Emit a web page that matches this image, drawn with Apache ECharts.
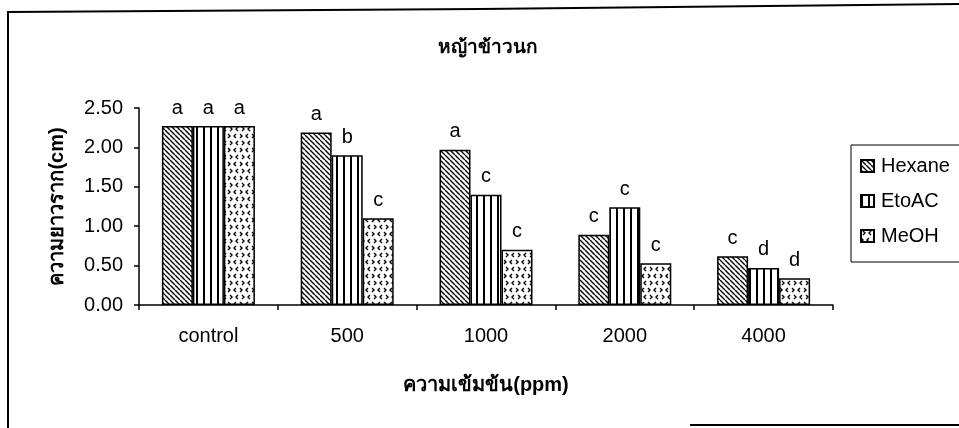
<!DOCTYPE html>
<html><head><meta charset="utf-8">
<script src="https://cdn.jsdelivr.net/npm/echarts@6/dist/echarts.min.js"></script>
<style>html,body{margin:0;padding:0;background:#fff}#c{width:959px;height:428px}</style>
</head><body><div id="c"></div>
<script>
const categories = ['control', '500', '1000', '2000', '4000'];
const seriesNames = ['Hexane', 'EtoAC', 'MeOH'];
const hexane = [2.27, 2.19, 1.97, 0.89, 0.62];
const etoac  = [2.27, 1.90, 1.40, 1.24, 0.47];
const meoh   = [2.27, 1.10, 0.70, 0.53, 0.34];
const hexaneLetters = ['a', 'a', 'a', 'c', 'c'];
const etoacLetters  = ['a', 'b', 'c', 'c', 'd'];
const meohLetters   = ['a', 'c', 'c', 'c', 'd'];
const yTicks = ['0.00', '0.50', '1.00', '1.50', '2.00', '2.50'];

function mk(w, h, draw) {
  const c = document.createElement('canvas'); c.width = w; c.height = h;
  const ctx = c.getContext('2d'); ctx.fillStyle = '#fff'; ctx.fillRect(0, 0, w, h);
  ctx.strokeStyle = '#000'; ctx.fillStyle = '#000'; draw(ctx); return c;
}
const diag = mk(5, 5, ctx => {
  ctx.lineWidth = 1.4; ctx.beginPath();
  for (const k of [-5, 0, 5]) { ctx.moveTo(k, 0); ctx.lineTo(k + 5, 5); }
  ctx.stroke();
});
const vert = mk(7, 4, ctx => { ctx.fillRect(0, 0, 2, 4); });
const dots = mk(12, 14, ctx => {
  ctx.lineWidth = 1.4; ctx.beginPath();
  ctx.moveTo(2, 1); ctx.lineTo(4, 3); ctx.lineTo(2, 5);
  ctx.moveTo(10, 1); ctx.lineTo(8, 3); ctx.lineTo(10, 5);
  ctx.moveTo(8, 8); ctx.lineTo(6, 10); ctx.lineTo(8, 12);
  ctx.moveTo(0, 8); ctx.lineTo(2, 10); ctx.lineTo(0, 12);
  ctx.moveTo(12, 8); ctx.lineTo(14, 10); ctx.lineTo(12, 12);
  ctx.stroke();
});
const patterns = [diag, vert, dots];
const values = [hexane, etoac, meoh];
const letters = [hexaneLetters, etoacLetters, meohLetters];

const FONT = '"Liberation Sans", Arial, "Noto Sans", "DejaVu Sans", sans-serif';
const chart = echarts.init(document.getElementById('c'), null, { renderer: 'canvas' });
chart.setOption({
  animation: false,
  backgroundColor: '#fff',
  textStyle: { fontFamily: FONT, color: '#000' },
  title: { text: 'หญ้าข้าวนก', left: 483, textAlign: 'center', top: 33,
    textStyle: { fontSize: 19, fontWeight: 'bold', color: '#000', fontFamily: FONT } },
  legend: {
    orient: 'vertical', left: 851, top: 145, itemWidth: 13, itemHeight: 12, itemGap: 15,
    icon: 'rect', borderColor: '#000', borderWidth: 1, borderRadius: 0,
    padding: [11, 40, 16, 9],
    textStyle: { fontSize: 20, color: '#000', fontFamily: FONT, padding: [0, 0, 0, 2] },
    data: seriesNames
  },
  grid: { left: 139, right: 126, top: 108, bottom: 123 },
  xAxis: {
    type: 'category', data: categories,
    name: 'ความเข้มข้น(ppm)', nameLocation: 'middle', nameGap: 70,
    nameTextStyle: { fontSize: 20, fontWeight: 'bold', color: '#000', fontFamily: FONT },
    axisLine: { lineStyle: { color: '#000', width: 1.5 } },
    axisTick: { show: true, length: 5, lineStyle: { color: '#000', width: 1.5 } },
    axisLabel: { fontSize: 20, color: '#000', margin: 21, fontFamily: FONT }
  },
  yAxis: {
    type: 'value', min: 0, max: 2.5, interval: 0.5,
    name: 'ความยาวราก(cm)', nameLocation: 'middle', nameGap: 72, nameRotate: 90,
    nameTextStyle: { fontSize: 20, fontWeight: 'bold', color: '#000', fontFamily: FONT },
    axisLine: { show: true, lineStyle: { color: '#000', width: 1.5 } },
    axisTick: { show: true, inside: false, length: 5, lineStyle: { color: '#000', width: 1.5 } },
    splitLine: { show: false },
    axisLabel: { fontSize: 20, color: '#000', margin: 16, fontFamily: FONT,
      formatter: v => yTicks[Math.round(v / 0.5)] }
  },
  series: seriesNames.map((n, i) => ({
    name: n, type: 'bar', barGap: '0%', barCategoryGap: '33%',
    itemStyle: { color: { image: patterns[i], repeat: 'repeat' }, borderColor: '#000', borderWidth: 1.5 },
    label: { show: true, position: 'top', distance: 8, fontSize: 20, color: '#000', fontFamily: FONT,
      formatter: p => letters[i][p.dataIndex] },
    data: values[i]
  })),
  graphic: [
    { type: 'polyline', shape: { points: [[8, 428], [8, 12], [480, 9], [959, 4]] },
      style: { stroke: '#000', lineWidth: 2, fill: null }, silent: true },
    { type: 'line', shape: { x1: 690, y1: 425, x2: 959, y2: 425 },
      style: { stroke: '#000', lineWidth: 2 }, silent: true }
  ]
});
</script></body></html>
